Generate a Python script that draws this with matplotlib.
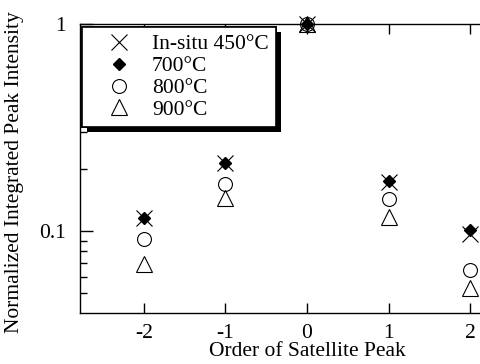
import matplotlib
matplotlib.use("Agg")
import matplotlib.pyplot as plt
import matplotlib.patheffects as pe
from matplotlib.ticker import LogLocator, NullFormatter, FixedLocator

# Order of satellite peak
orders = [-2, -1, 0, 1, 2]

# Normalized integrated peak intensities
insitu_450 = [0.116, 0.213, 1.0, 0.172, 0.097]
anneal_700 = [0.116, 0.213, 1.0, 0.174, 0.101]
anneal_800 = [0.0915, 0.169, 1.0, 0.143, 0.065]
anneal_900 = [0.0695, 0.144, 1.0, 0.117, 0.053]

plt.rcParams['font.family'] = ['Liberation Serif', 'DejaVu Serif']
plt.rcParams['font.size'] = 15.5

fig = plt.figure(figsize=(4.8, 3.64), dpi=100)
ax = fig.add_axes([80 / 480, 1 - 313 / 364, 454 / 480, 289 / 364])

ax.plot(orders, insitu_450, 'x', color='k', markersize=11, markeredgewidth=0.8,
        label='In-situ 450°C', clip_on=False, zorder=3)
ax.plot(orders, anneal_700, 'D', color='k', markersize=6.5,
        label='700°C', clip_on=False, zorder=4)
ax.plot(orders, anneal_800, 'o', mfc='white', mec='k', markersize=10, markeredgewidth=0.8,
        label='800°C', clip_on=False, zorder=2)
ax.plot(orders, anneal_900, '^', mfc='none', mec='k', markersize=11, markeredgewidth=0.8,
        label='900°C', clip_on=False, zorder=5)

ax.set_yscale('log')
ax.set_ylim(0.0402, 1)
ax.set_xlim(-2.785, 2.785)

ax.set_xticks(orders)
ax.set_xticklabels(['-2', '-1', '0', '1', '2'])
ax.yaxis.set_major_locator(FixedLocator([0.1, 1]))
ax.set_yticklabels(['0.1', '1'])
ax.yaxis.set_minor_locator(LogLocator(base=10, subs=range(2, 10)))
ax.yaxis.set_minor_formatter(NullFormatter())

ax.tick_params(axis='x', which='major', direction='in', length=7, width=1,
               top=True, pad=8)
ax.tick_params(axis='y', which='major', direction='in', length=9, width=1,
               right=False, pad=10)
ax.tick_params(axis='y', which='minor', direction='in', length=5, width=1,
               right=False)
for s in ax.spines.values():
    s.set_linewidth(1)
ax.spines['right'].set_visible(False)

ax.set_xlabel('Order of Satellite Peak')
ax.xaxis.set_label_coords(227 / 454, -38 / 289, transform=ax.transAxes)
ax.xaxis.label.set_va('center')
ax.set_ylabel('Normalized Integrated Peak Intensity')
ax.yaxis.set_label_coords(-56 / 454, 0.5 - 4 / 289, transform=ax.transAxes)

leg = ax.legend(loc='upper left', bbox_to_anchor=(0.004, 0.99), fancybox=False,
                edgecolor='k', framealpha=1, handletextpad=0.1, labelspacing=0.08,
                borderpad=0.35, borderaxespad=0, handlelength=2.8, fontsize=15.5)
frame = leg.get_frame()
frame.set_linewidth(1.2)
frame.set_path_effects([pe.withSimplePatchShadow(offset=(3.5, -3.5), shadow_rgbFace='k', alpha=1),
                        pe.Normal()])

fig.savefig('out.png', dpi=100)
